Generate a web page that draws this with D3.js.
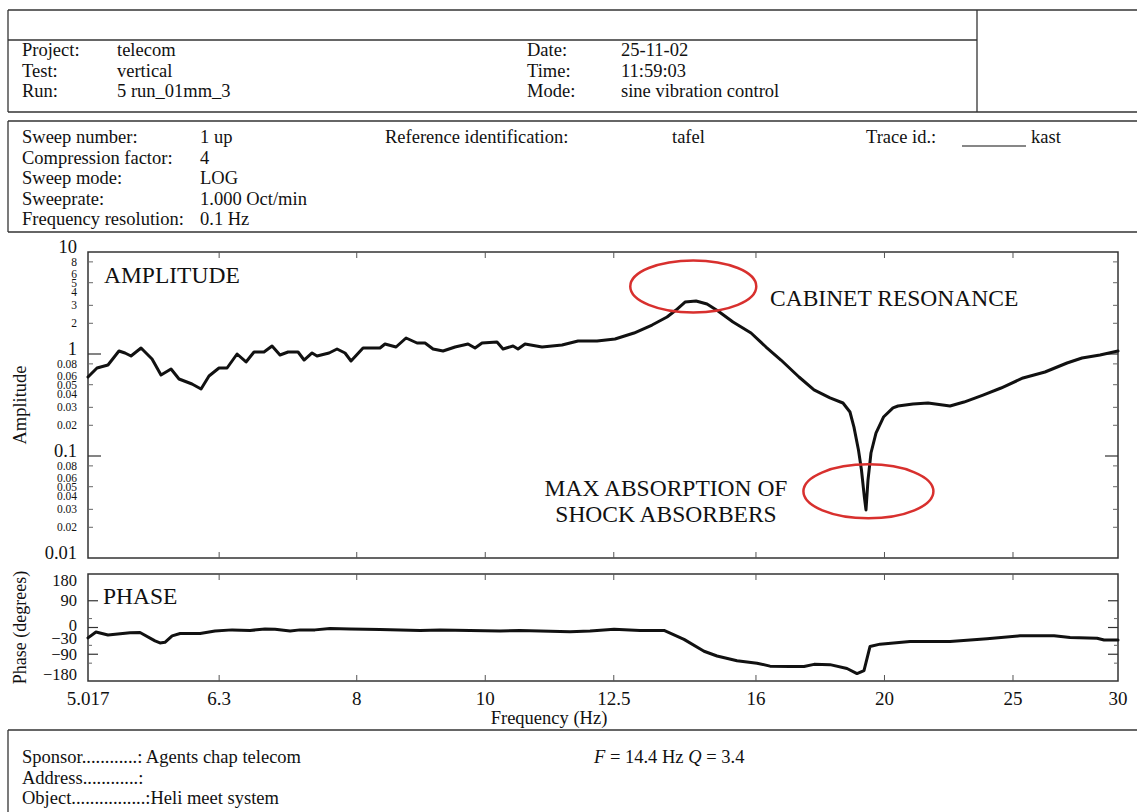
<!DOCTYPE html>
<html>
<head>
<meta charset="utf-8">
<script src="https://cdn.jsdelivr.net/npm/d3@7"></script>
<style>
  body { margin: 0; background: #fff; }
  svg { display: block; }
  text { font-family: "Liberation Serif", "Times New Roman", serif; fill: #111; }
</style>
</head>
<body>
<svg id="chart" width="1137" height="812"></svg>
<script>
// ---------------- DATA ----------------
const ampFreq = [5.017,5.096,5.194,5.294,5.350,5.406,5.501,5.607,5.695,5.795,5.876,6.010,6.105,6.190,6.298,6.387,6.499,6.601,6.693,6.810,6.906,7.002,7.101,7.225,7.301,7.403,7.467,7.625,7.731,7.839,7.921,8.088,8.330,8.402,8.565,8.715,8.883,9.007,9.133,9.293,9.489,9.705,9.824,9.944,10.206,10.313,10.494,10.585,10.715,11.036,11.426,11.586,11.748,12.142,12.527,12.947,13.359,13.711,13.927,14.146,14.419,14.697,14.980,15.375,15.864,16.282,16.710,17.241,17.697,18.195,18.610,18.837,18.968,19.117,19.217,19.314,19.368,19.436,19.537,19.707,19.966,20.298,20.475,21.015,21.571,22.411,22.962,23.732,24.486,25.438,26.428,27.459,28.183,29.078,30.0];
const ampValue = [0.595,0.729,0.780,1.07,1.023,0.956,1.145,0.893,0.623,0.713,0.569,0.508,0.454,0.609,0.729,0.729,1.0,0.835,1.046,1.046,1.198,0.978,1.046,1.046,0.873,1.023,0.956,1.023,1.119,1.023,0.854,1.145,1.145,1.253,1.171,1.435,1.282,1.282,1.119,1.070,1.171,1.253,1.145,1.282,1.311,1.119,1.198,1.119,1.253,1.171,1.225,1.282,1.341,1.341,1.403,1.606,1.924,2.305,2.70,3.23,3.31,3.09,2.64,2.06,1.606,1.171,0.873,0.595,0.444,0.371,0.331,0.270,0.192,0.1146,0.0729,0.0396,0.0296,0.0582,0.107,0.168,0.241,0.296,0.309,0.324,0.331,0.309,0.338,0.396,0.464,0.582,0.666,0.816,0.914,0.978,1.070];

const phaseFreq = [5.017,5.087,5.194,5.397,5.491,5.636,5.685,5.734,5.806,5.887,6.095,6.255,6.443,6.647,6.822,6.942,7.126,7.250,7.441,7.637,7.907,8.330,8.626,8.931,9.246,9.739,10.26,10.62,11.00,11.586,11.995,12.142,12.506,13.083,13.640,14.121,14.621,14.954,15.482,16.030,16.396,16.975,17.393,17.697,18.196,18.740,19.068,19.301,19.503,19.845,20.907,22.413,23.899,25.306,26.849,27.604,28.929,29.283,30.0];
const phaseValue = [-35,-15,-25,-18,-17,-45,-52,-50,-28,-20,-20,-12,-8,-10,-5,-6,-12,-8,-8,-3,-5,-7,-8,-10,-8,-10,-12,-10,-12,-14,-12,-10,-6,-10,-10,-40,-80,-96,-112,-120,-130,-131,-131,-124,-125,-138,-155,-145,-64,-56,-47,-47,-38,-28,-28,-34,-36,-42,-42];

const xTickValues = [5.017, 6.3, 8, 10, 12.5, 16, 20, 25, 30];
const xTickLabels = ["5.017", "6.3", "8", "10", "12.5", "16", "20", "25", "30"];

const ampTickValues = [10,8,6,5,4,3,2,1,0.8,0.6,0.5,0.4,0.3,0.2,0.1,0.08,0.06,0.05,0.04,0.03,0.02,0.01];
const ampTickLabels = ["10","8","6","5","4","3","2","1","0.08","0.06","0.05","0.04","0.03","0.02","0.1","0.08","0.06","0.05","0.04","0.03","0.02","0.01"];
const ampMajorTicks = [10, 1, 0.1, 0.01];
const ampMinorTicks = [8,5,3,2,0.8,0.5,0.3,0.2,0.08,0.05,0.03,0.02];

const phaseTickValues = [180, 90, 0, -30, -90, -180];
const phaseTickLabels = ["180", "90", "0", "\u221230", "\u221290", "\u2212180"];
const phaseMajorTicks = [90, 0, -90];
const phaseMinorTicks = [30, -60, -120];

const headerLeft = [["Project:", "telecom"], ["Test:", "vertical"], ["Run:", "5 run_01mm_3"]];
const headerRight = [["Date:", "25-11-02"], ["Time:", "11:59:03"], ["Mode:", "sine vibration control"]];
const sweepInfo = [["Sweep number:", "1 up"], ["Compression factor:", "4"], ["Sweep mode:", "LOG"], ["Sweeprate:", "1.000 Oct/min"], ["Frequency resolution:", "0.1 Hz"]];
const footerInfo = ["Sponsor............: Agents chap telecom", "Address............:", "Object................:Heli meet system"];

// ---------------- LAYOUT ----------------
const svg = d3.select("#chart");
svg.append("rect").attr("width", 1137).attr("height", 812).attr("fill", "#fff");

const X0 = 88, X1 = 1118;
const ampTop = 252, ampBot = 558;
const phTop = 574, phBot = 681;

const x = d3.scaleLog().domain([5.017, 30]).range([X0, X1]);
const yA = d3.scaleLog().domain([0.01, 10]).range([ampBot, ampTop]);
const yP = d3.scaleLinear().domain([-180, 180]).range([phBot, phTop]);

const boxStroke = "#333";
const fs = "18.5px";

function hline(g, x1, x2, y) {
  g.append("line").attr("x1", x1).attr("x2", x2).attr("y1", y).attr("y2", y).attr("stroke", boxStroke).attr("stroke-width", 1.3);
}
function vline(g, xx, y1, y2) {
  g.append("line").attr("x1", xx).attr("x2", xx).attr("y1", y1).attr("y2", y2).attr("stroke", boxStroke).attr("stroke-width", 1.3);
}

// ---- header box 1 ----
const g1 = svg.append("g");
hline(g1, 8, 1137, 10);
hline(g1, 8, 977, 40);
hline(g1, 8, 1137, 112);
vline(g1, 8, 10, 112);
vline(g1, 977, 10, 112);

headerLeft.forEach((r, i) => {
  const yy = 56 + i * 20.5;
  g1.append("text").attr("x", 22).attr("y", yy).style("font-size", fs).text(r[0]);
  g1.append("text").attr("x", 117).attr("y", yy).style("font-size", fs).text(r[1]);
});
headerRight.forEach((r, i) => {
  const yy = 56 + i * 20.5;
  g1.append("text").attr("x", 527).attr("y", yy).style("font-size", fs).text(r[0]);
  g1.append("text").attr("x", 621).attr("y", yy).style("font-size", fs).text(r[1]);
});

// ---- header box 2 ----
const g2 = svg.append("g");
hline(g2, 8, 1137, 121);
hline(g2, 8, 1137, 232);
vline(g2, 8, 121, 232);
sweepInfo.forEach((r, i) => {
  const yy = 143 + i * 20.6;
  g2.append("text").attr("x", 22).attr("y", yy).style("font-size", fs).text(r[0]);
  g2.append("text").attr("x", 200).attr("y", yy).style("font-size", fs).text(r[1]);
});
g2.append("text").attr("x", 385).attr("y", 143).style("font-size", fs).text("Reference identification:");
g2.append("text").attr("x", 672).attr("y", 143).style("font-size", fs).text("tafel");
g2.append("text").attr("x", 866).attr("y", 143).style("font-size", fs).text("Trace id.:");
g2.append("line").attr("x1", 962).attr("x2", 1026).attr("y1", 146).attr("y2", 146).attr("stroke", "#111").attr("stroke-width", 1.2);
g2.append("text").attr("x", 1031).attr("y", 143).style("font-size", fs).text("kast");

// ---- amplitude panel ----
const gA = svg.append("g");
gA.append("rect").attr("x", X0).attr("y", ampTop).attr("width", X1 - X0).attr("height", ampBot - ampTop)
  .attr("fill", "none").attr("stroke", boxStroke).attr("stroke-width", 1.5);

ampMajorTicks.forEach(v => {
  if (v === 10 || v === 0.01) return;
  gA.append("line").attr("x1", X0).attr("x2", X0 + 13).attr("y1", yA(v)).attr("y2", yA(v)).attr("stroke", "#333").attr("stroke-width", 1.2);
  gA.append("line").attr("x1", X1 - 13).attr("x2", X1).attr("y1", yA(v)).attr("y2", yA(v)).attr("stroke", "#333").attr("stroke-width", 1.2);
});
ampMinorTicks.forEach(v => {
  gA.append("line").attr("x1", X0).attr("x2", X0 + 5).attr("y1", yA(v)).attr("y2", yA(v)).attr("stroke", "#666").attr("stroke-width", 1);
  gA.append("line").attr("x1", X1 - 5).attr("x2", X1).attr("y1", yA(v)).attr("y2", yA(v)).attr("stroke", "#666").attr("stroke-width", 1);
});
xTickValues.slice(1, -1).forEach(v => {
  gA.append("line").attr("x1", x(v)).attr("x2", x(v)).attr("y1", ampBot).attr("y2", ampBot - 6).attr("stroke", "#555").attr("stroke-width", 1);
  gA.append("line").attr("x1", x(v)).attr("x2", x(v)).attr("y1", ampTop).attr("y2", ampTop + 6).attr("stroke", "#555").attr("stroke-width", 1);
});

ampTickValues.forEach((v, i) => {
  const major = ampMajorTicks.includes(v);
  const yy = major ? Math.min(yA(v) - 5, ampBot - 1) : yA(v);
  gA.append("text")
    .attr("x", 77)
    .attr("y", yy)
    .attr("dy", "0.33em")
    .attr("text-anchor", "end")
    .style("font-size", major ? "18.5px" : "11.5px")
    .text(ampTickLabels[i]);
});

gA.append("text").attr("transform", `translate(26,${(ampTop + ampBot) / 2}) rotate(-90)`)
  .attr("text-anchor", "middle").style("font-size", "18.5px").text("Amplitude");
gA.append("text").attr("x", 104).attr("y", 283).style("font-size", "23.5px").text("AMPLITUDE");

const ampLine = d3.line().x((d, i) => x(ampFreq[i])).y((d, i) => yA(ampValue[i]));
gA.append("path").datum(ampValue).attr("d", ampLine).attr("fill", "none").attr("stroke", "#111")
  .attr("stroke-width", 3).attr("stroke-linejoin", "round").attr("stroke-linecap", "round");

// annotations
gA.append("ellipse").attr("cx", x(14.35)).attr("cy", yA(4.6)).attr("rx", 63).attr("ry", 26)
  .attr("fill", "none").attr("stroke", "#d8302e").attr("stroke-width", 2.5);
gA.append("ellipse").attr("cx", x(19.45)).attr("cy", yA(0.045)).attr("rx", 65).attr("ry", 27)
  .attr("fill", "none").attr("stroke", "#d8302e").attr("stroke-width", 2.5);
gA.append("text").attr("x", 770).attr("y", 306).style("font-size", "23.5px").text("CABINET RESONANCE");
gA.append("text").attr("x", 666).attr("y", 496).attr("text-anchor", "middle").style("font-size", "23.5px").text("MAX ABSORPTION OF");
gA.append("text").attr("x", 666).attr("y", 522).attr("text-anchor", "middle").style("font-size", "23.5px").text("SHOCK ABSORBERS");

// ---- phase panel ----
const gP = svg.append("g");
gP.append("rect").attr("x", X0).attr("y", phTop).attr("width", X1 - X0).attr("height", phBot - phTop)
  .attr("fill", "none").attr("stroke", boxStroke).attr("stroke-width", 1.5);
phaseMajorTicks.forEach(v => {
  gP.append("line").attr("x1", X0).attr("x2", X0 + 10).attr("y1", yP(v)).attr("y2", yP(v)).attr("stroke", "#333").attr("stroke-width", 1.2);
  gP.append("line").attr("x1", X1 - 10).attr("x2", X1).attr("y1", yP(v)).attr("y2", yP(v)).attr("stroke", "#333").attr("stroke-width", 1.2);
});
phaseMinorTicks.forEach(v => {
  gP.append("line").attr("x1", X0).attr("x2", X0 + 4).attr("y1", yP(v)).attr("y2", yP(v)).attr("stroke", "#666").attr("stroke-width", 1);
  gP.append("line").attr("x1", X1 - 4).attr("x2", X1).attr("y1", yP(v)).attr("y2", yP(v)).attr("stroke", "#666").attr("stroke-width", 1);
});
xTickValues.slice(1, -1).forEach(v => {
  gP.append("line").attr("x1", x(v)).attr("x2", x(v)).attr("y1", phBot).attr("y2", phBot - 6).attr("stroke", "#555").attr("stroke-width", 1);
  gP.append("line").attr("x1", x(v)).attr("x2", x(v)).attr("y1", phTop).attr("y2", phTop + 6).attr("stroke", "#555").attr("stroke-width", 1);
});
// phase labels: clamp into the box, then push apart labels that are too close
const phLabelY = phaseTickValues.map(v => Math.max(phTop + 7, Math.min(phBot - 6, yP(v))));
for (let it = 0; it < 5; it++) {
  for (let i = 1; i < phLabelY.length; i++) {
    const gap = phLabelY[i] - phLabelY[i - 1];
    if (gap < 13.5) {
      const push = (13.5 - gap) / 2;
      phLabelY[i - 1] -= push;
      phLabelY[i] += push;
    }
  }
}
phaseTickValues.forEach((v, i) => {
  gP.append("text").attr("x", 77).attr("y", phLabelY[i]).attr("dy", "0.33em").attr("text-anchor", "end")
    .style("font-size", "16.5px").text(phaseTickLabels[i]);
});
gP.append("text").attr("transform", `translate(26,${(phTop + phBot) / 2}) rotate(-90)`)
  .attr("text-anchor", "middle").style("font-size", "18px").text("Phase (degrees)");
gP.append("text").attr("x", 103).attr("y", 604).style("font-size", "23.5px").text("PHASE");

const phLine = d3.line().x((d, i) => x(phaseFreq[i])).y((d, i) => yP(phaseValue[i]));
gP.append("path").datum(phaseValue).attr("d", phLine).attr("fill", "none").attr("stroke", "#111")
  .attr("stroke-width", 3).attr("stroke-linejoin", "round").attr("stroke-linecap", "round");

// x axis labels
xTickValues.forEach((v, i) => {
  svg.append("text").attr("x", x(v)).attr("y", 704.5).attr("text-anchor", "middle").style("font-size", "19px").text(xTickLabels[i]);
});
svg.append("text").attr("x", 549).attr("y", 724).attr("text-anchor", "middle").style("font-size", "18.5px").text("Frequency (Hz)");

// ---- footer box ----
const g3 = svg.append("g");
hline(g3, 8, 1137, 730);
vline(g3, 8, 730, 812);
footerInfo.forEach((t, i) => {
  g3.append("text").attr("x", 22).attr("y", 763 + i * 20.5).style("font-size", fs).text(t);
});
const fq = g3.append("text").attr("x", 594).attr("y", 763).style("font-size", fs);
fq.append("tspan").style("font-style", "italic").text("F");
fq.append("tspan").text(" = 14.4 Hz ");
fq.append("tspan").style("font-style", "italic").text("Q");
fq.append("tspan").text(" = 3.4");
</script>
</body>
</html>
